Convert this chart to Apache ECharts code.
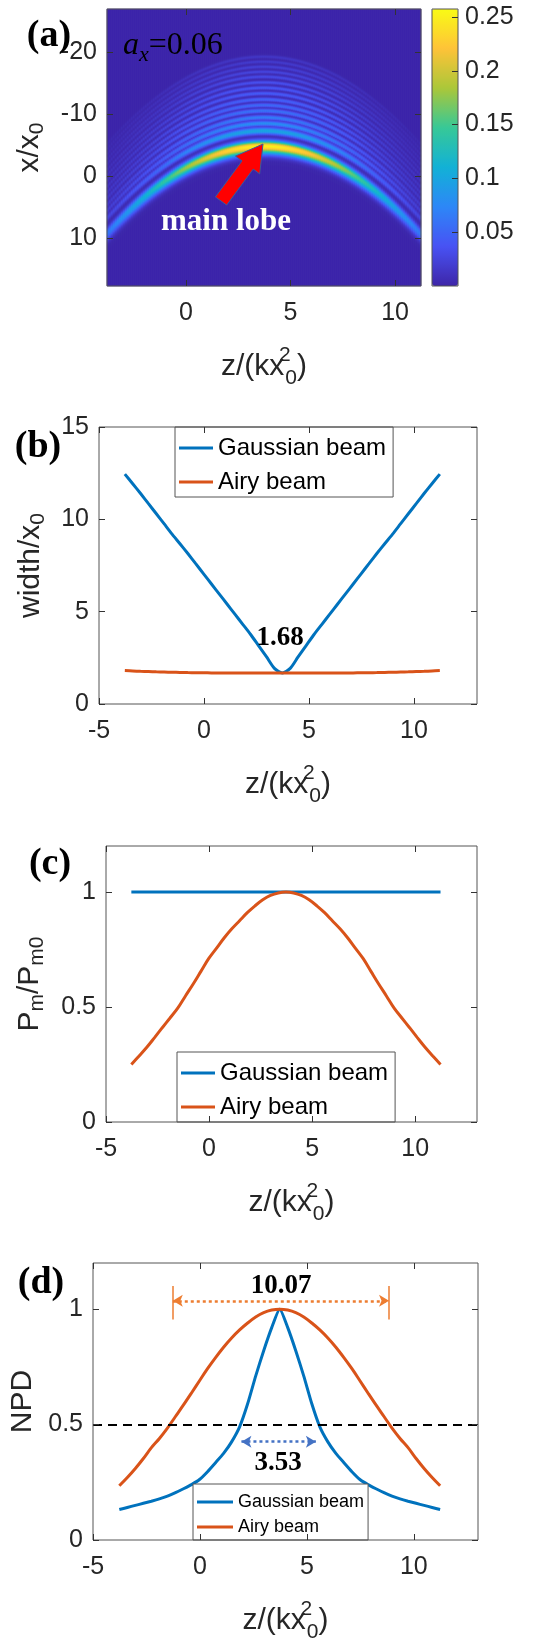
<!DOCTYPE html>
<html>
<head>
<meta charset="utf-8">
<script src="https://cdn.jsdelivr.net/npm/echarts@6/dist/echarts.min.js"></script>
<style>
  html, body { margin: 0; padding: 0; background: #fff; }
  #chart { width: 558px; height: 1644px; }
</style>
</head>
<body>
<div id="chart"></div>
<script>
const zSamples = [-3.77, -3.395, -3.02, -2.645, -2.27, -1.895, -1.52, -1.145, -0.77, -0.395, -0.02,
  0.355, 0.73, 1.105, 1.48, 1.855, 2.23, 2.605, 2.98, 3.355, 3.73, 4.105, 4.48, 4.855, 5.23, 5.605,
  5.98, 6.355, 6.73, 7.105, 7.48, 7.855, 8.23, 8.605, 8.98, 9.355, 9.73, 10.105, 10.48, 10.855, 11.23]

// (b) width / x0
const gaussWidth = [12.45, 11.93, 11.4, 10.85, 10.3, 9.75, 9.2, 8.68, 8.15, 7.6, 7.05, 6.5, 5.95, 5.4,
  4.85, 4.3, 3.75, 3.15, 2.55, 1.93, 1.68, 1.93, 2.55, 3.15, 3.75, 4.3, 4.85, 5.4, 5.95, 6.5, 7.05,
  7.6, 8.15, 8.68, 9.2, 9.75, 10.3, 10.85, 11.4, 11.93, 12.45]
const airyWidth = [1.81, 1.79, 1.77, 1.755, 1.74, 1.73, 1.72, 1.71, 1.7, 1.695, 1.69, 1.685, 1.68, 1.68,
  1.68, 1.68, 1.68, 1.68, 1.68, 1.68, 1.68, 1.68, 1.68, 1.68, 1.68, 1.68, 1.68, 1.68, 1.68, 1.685, 1.69,
  1.695, 1.7, 1.71, 1.72, 1.73, 1.74, 1.755, 1.77, 1.79, 1.81]

// (c) Pm / Pm0
const gaussPm = [1, 1, 1, 1, 1, 1, 1, 1, 1, 1, 1, 1, 1, 1, 1, 1, 1, 1, 1, 1, 1,
  1, 1, 1, 1, 1, 1, 1, 1, 1, 1, 1, 1, 1, 1, 1, 1, 1, 1, 1, 1]
const airyPm = [0.25, 0.287, 0.325, 0.367, 0.41, 0.452, 0.495, 0.548, 0.6, 0.655, 0.71, 0.755, 0.8,
  0.84, 0.875, 0.91, 0.94, 0.966, 0.985, 0.996, 1, 0.996, 0.985, 0.966, 0.94, 0.91, 0.875, 0.84, 0.8,
  0.755, 0.71, 0.655, 0.6, 0.548, 0.495, 0.452, 0.41, 0.367, 0.325, 0.287, 0.25]

// (d) NPD
const gaussNpd = [0.132, 0.141, 0.15, 0.159, 0.168, 0.178, 0.19, 0.205, 0.222, 0.24, 0.262, 0.296, 0.335,
  0.375, 0.425, 0.49, 0.59, 0.71, 0.82, 0.92, 1, 0.92, 0.82, 0.71, 0.59, 0.49, 0.425, 0.375, 0.335,
  0.296, 0.262, 0.24, 0.222, 0.205, 0.19, 0.178, 0.168, 0.159, 0.15, 0.141, 0.132]
const airyNpd = [0.235, 0.271, 0.31, 0.353, 0.4, 0.44, 0.485, 0.535, 0.585, 0.637, 0.69, 0.742, 0.79,
  0.835, 0.875, 0.91, 0.94, 0.966, 0.985, 0.996, 1, 0.996, 0.985, 0.966, 0.94, 0.91, 0.875, 0.835, 0.79,
  0.742, 0.69, 0.637, 0.585, 0.535, 0.485, 0.44, 0.4, 0.353, 0.31, 0.271, 0.235]

// (d) annotations: FWHM spans and their labels
const airySpan = [-1.27, 8.84]
const airySpanY = 1.036
const airySpanBar = [0.955, 1.1]
const gaussSpan = [1.94, 5.42]
const gaussSpanY = 0.426
const halfLevel = 0.5
const labelB = [3.62, 3.57, '1.68']
const labelD = [[3.8, 1.1, '10.07'], [3.65, 0.334, '3.53']]

// (a) intensity map: main lobe arc and the side lobes above it
const arcApex = [3.73, -4.84]      // [z, x] of the main lobe top
const arcCurvature = 0.25
const lobeOffset = [0, 2.47, 3.66, 4.63, 5.69, 6.61, 7.53, 8.5, 9.4, 10.27, 11.18, 11.98, 12.79, 13.6, 14.4]
const lobePeak = [0.25, 0.1, 0.08, 0.068, 0.06, 0.054, 0.049, 0.044, 0.04, 0.035, 0.03, 0.026, 0.022, 0.018, 0.014]
const lobeSigma = [0.6, 0.4, 0.31, 0.28, 0.26, 0.24, 0.23, 0.22, 0.21, 0.2, 0.2, 0.19, 0.19, 0.18, 0.18]
const mainTailSigma = 0.8
const colorbarTicks = [0.05, 0.1, 0.15, 0.2, 0.25]

const PARULA = ['#3e26a8', '#4852f4', '#2d87f7', '#12b1d6', '#37c897', '#abc739', '#fec338', '#f9fb15']
const BLUE = '#0072bd'
const ORANGE = '#d95319'
const AXIS = '#555555'
const TXT = '#262626'
const SANS = 'Liberation Sans'
const SERIF = 'Liberation Serif'

// grid of the map, 2px x 1px cells
const heatCols = 157
const heatRows = 277
const zRange = [-3.78, 11.24]
const xRange = [-26.9, 17.7]

function sampleAt(xs, ys, x) {
  if (x <= xs[0]) return ys[0]
  for (let i = 1; i < xs.length; i++) {
    if (x <= xs[i]) {
      const t = (x - xs[i - 1]) / (xs[i] - xs[i - 1])
      return ys[i - 1] + t * (ys[i] - ys[i - 1])
    }
  }
  return ys[ys.length - 1]
}

const heatData = []
const dz = (zRange[1] - zRange[0]) / heatCols
const dx = (xRange[1] - xRange[0]) / heatRows
for (let i = 0; i < heatCols; i++) {
  const z = zRange[0] + (i + 0.5) * dz
  const env = sampleAt(zSamples, airyPm, z)
  const xc = arcApex[1] + arcCurvature * (z - arcApex[0]) ** 2
  for (let j = 0; j < heatRows; j++) {
    const x = xRange[1] - (j + 0.5) * dx
    const o = xc - x
    let v = 0
    if (o <= 0) {
      v = lobePeak[0] * Math.exp(-o * o / (2 * mainTailSigma * mainTailSigma))
    } else {
      for (let k = 0; k < lobeOffset.length; k++) {
        const d = o - lobeOffset[k]
        v = Math.max(v, lobePeak[k] * Math.exp(-d * d / (2 * lobeSigma[k] * lobeSigma[k])))
      }
    }
    heatData.push([i, j, +(v * env + 0.001).toFixed(4)])
  }
}

const pairs = (ys) => zSamples.map((z, i) => [z, ys[i]])

const nameRich = {
  n: { fontSize: 30, fontFamily: SANS, color: TXT, lineHeight: 36, verticalAlign: 'middle' },
  s: { fontSize: 21, fontFamily: SANS, color: TXT, lineHeight: 18, verticalAlign: 'bottom' }
}
const xNameRich = {
  n: { fontSize: 30, fontFamily: SANS, color: TXT, lineHeight: 44, verticalAlign: 'middle' },
  p: { fontSize: 21, fontFamily: SANS, color: TXT, lineHeight: 18, verticalAlign: 'top', width: 1, align: 'left' },
  s: { fontSize: 21, fontFamily: SANS, color: TXT, lineHeight: 12, verticalAlign: 'bottom' }
}
const Z_NAME = '{n|z/(kx}{p|2}{s|0}{n|)}'

// the box itself comes from the grid border, axes only carry ticks and labels
const noLine = { show: false, onZero: false }
const tickStyle = (ticks) => ({ show: true, inside: true, length: 6, customValues: ticks, lineStyle: { color: '#333', width: 1 } })
const labelStyle = (ticks, margin) => ({
  customValues: ticks, margin: margin, color: TXT, fontSize: 25, fontFamily: SANS
})

function boxX(gridIndex, min, max, ticks) {
  return [
    {
      type: 'value', gridIndex, min, max, position: 'bottom', z: 12,
      axisLine: noLine, splitLine: { show: false },
      axisTick: tickStyle(ticks), axisLabel: labelStyle(ticks, 15),
      name: Z_NAME, nameLocation: 'middle', nameGap: 59,
      nameTextStyle: { rich: xNameRich }
    },
    {
      type: 'value', gridIndex, min, max, position: 'top', z: 12,
      axisLine: noLine, splitLine: { show: false },
      axisTick: tickStyle(ticks), axisLabel: { show: false, customValues: ticks }
    }
  ]
}

function boxY(gridIndex, min, max, ticks, name, nameGap, inverse) {
  return [
    {
      type: 'value', gridIndex, min, max, inverse: !!inverse, position: 'left', z: 12,
      axisLine: noLine, splitLine: { show: false },
      axisTick: tickStyle(ticks), axisLabel: labelStyle(ticks, 10),
      name, nameLocation: 'middle', nameRotate: 90, nameGap,
      nameTextStyle: { rich: nameRich }
    },
    {
      type: 'value', gridIndex, min, max, inverse: !!inverse, position: 'right', z: 12,
      axisLine: noLine, splitLine: { show: false },
      axisTick: tickStyle(ticks), axisLabel: { show: false, customValues: ticks }
    }
  ]
}

const gridBox = { show: true, borderColor: AXIS, borderWidth: 1, backgroundColor: 'transparent', z: 10, outerBoundsMode: 'none' }

const legendBase = {
  orient: 'vertical', selectedMode: false, backgroundColor: '#fff',
  borderColor: '#555', borderWidth: 1, borderRadius: 0, icon: 'rect',
  data: ['Gaussian beam', 'Airy beam']
}

const lineSeries = (name, color, xi, ys, extra) => Object.assign({
  type: 'line', name, xAxisIndex: xi, yAxisIndex: xi, data: pairs(ys),
  symbol: 'none', smooth: 0.35,
  lineStyle: { color, width: 3 }, itemStyle: { color }
}, extra || {})

const numLabel = (coord, text) => ({
  coord: [coord[0], coord[1]], symbol: 'circle', symbolSize: 0,
  label: { show: true, position: 'inside', formatter: text, color: '#000',
    fontFamily: SERIF, fontWeight: 'bold', fontSize: 27 }
})

const xsA = boxX(1, zRange[0], zRange[1], [0, 5, 10])
const ysA = boxY(1, xRange[0], xRange[1], [-20, -10, 0, 10], '{n|x/x}{s|0}', 59, true)
const xsB = boxX(3, -5, 13, [-5, 0, 5, 10])
const ysB = boxY(3, 0, 15, [0, 5, 10, 15], '{n|width/x}{s|0}', 50)
const xsC = boxX(4, -5, 13, [-5, 0, 5, 10])
const ysC = boxY(4, 0, 1.2, [0, 0.5, 1], '{n|P}{s|m}{n|/P}{s|m0}', 58)
const xsD = boxX(5, -5, 13, [-5, 0, 5, 10])
const ysD = boxY(5, 0, 1.2, [0, 0.5, 1], '{n|NPD}', 51)

const dashed = { color: '#000', width: 2, type: [9, 6] }
const spanStyle = (color) => ({ color, width: 2.5, type: [3, 3] })
const barStyle = { color: '#ed7d31', width: 1.5, type: 'solid' }

const chart = echarts.init(document.getElementById('chart'))

chart.setOption({
  animation: false,
  backgroundColor: '#fff',
  grid: [
    { left: 107, top: 9, width: 314, height: 277, outerBoundsMode: 'none' },
    Object.assign({ left: 107, top: 9, width: 314, height: 277 }, gridBox),
    Object.assign({ left: 432, top: 9, width: 26, height: 277 }, gridBox),
    Object.assign({ left: 99, top: 427, width: 378, height: 277 }, gridBox),
    Object.assign({ left: 106, top: 846, width: 371, height: 276 }, gridBox),
    Object.assign({ left: 93, top: 1263, width: 385, height: 277 }, gridBox)
  ],
  xAxis: [
    { type: 'category', gridIndex: 0, data: Array.from({ length: heatCols }, (_, i) => i), show: false },
    xsA[0],
    { type: 'category', gridIndex: 2, data: [''], show: false },
    xsB[0], xsC[0], xsD[0],
    xsA[1], xsB[1], xsC[1], xsD[1]
  ],
  yAxis: [
    { type: 'category', gridIndex: 0, data: Array.from({ length: heatRows }, (_, i) => i), show: false },
    ysA[0],
    {
      type: 'value', gridIndex: 2, min: 0, max: 0.2574, position: 'right', z: 12,
      axisLine: noLine, splitLine: { show: false },
      axisTick: tickStyle(colorbarTicks), axisLabel: labelStyle(colorbarTicks, 7)
    },
    ysB[0], ysC[0], ysD[0],
    ysA[1], ysB[1], ysC[1], ysD[1]
  ],
  visualMap: {
    type: 'continuous', seriesIndex: 0, min: 0, max: 0.2574,
    show: true, calculable: false, hoverLink: false, padding: 0,
    left: 432, top: 9, itemWidth: 26, itemHeight: 277, text: null,
    inRange: { color: PARULA }
  },
  legend: [
    Object.assign({ left: 175, top: 427, padding: [6, 7, 0, 4], itemGap: 4, itemWidth: 34, itemHeight: 3,
      textStyle: { fontSize: 24, lineHeight: 30, fontFamily: SANS, color: '#000' } }, legendBase),
    Object.assign({ left: 177, top: 1052, padding: [6, 7, 0, 4], itemGap: 4, itemWidth: 34, itemHeight: 3,
      textStyle: { fontSize: 24, lineHeight: 30, fontFamily: SANS, color: '#000' } }, legendBase),
    Object.assign({ left: 193, top: 1484, padding: [7, 4, 2, 4], itemGap: 3, itemWidth: 36, itemHeight: 3,
      textStyle: { fontSize: 18, lineHeight: 22, fontFamily: SANS, color: '#000' } }, legendBase)
  ],
  series: [
    {
      type: 'heatmap', xAxisIndex: 0, yAxisIndex: 0, data: heatData,
      progressive: 0, progressiveThreshold: 1e7,
      itemStyle: { borderWidth: 0 }, emphasis: { disabled: true }
    },
    lineSeries('Gaussian beam', BLUE, 3, gaussWidth, { smooth: 0.25 }),
    lineSeries('Airy beam', ORANGE, 3, airyWidth, {
      markPoint: { silent: true, data: [numLabel(labelB, labelB[2])] }
    }),
    lineSeries('Gaussian beam', BLUE, 4, gaussPm, { smooth: false }),
    lineSeries('Airy beam', ORANGE, 4, airyPm),
    lineSeries('Gaussian beam', BLUE, 5, gaussNpd, { smooth: 0.2 }),
    lineSeries('Airy beam', ORANGE, 5, airyNpd, {
      markLine: {
        silent: true, symbol: 'none', label: { show: false }, z: 5,
        data: [
          { yAxis: halfLevel, lineStyle: dashed },
          [
            { coord: [airySpan[0], airySpanY], symbol: 'arrow', symbolSize: [9, 10], lineStyle: spanStyle('#ed7d31') },
            { coord: [airySpan[1], airySpanY], symbol: 'arrow', symbolSize: [9, 10] }
          ],
          [
            { coord: [airySpan[0], airySpanBar[0]], lineStyle: barStyle },
            { coord: [airySpan[0], airySpanBar[1]] }
          ],
          [
            { coord: [airySpan[1], airySpanBar[0]], lineStyle: barStyle },
            { coord: [airySpan[1], airySpanBar[1]] }
          ],
          [
            { coord: [gaussSpan[0], gaussSpanY], symbol: 'arrow', symbolSize: [9, 10], lineStyle: spanStyle('#4472c4') },
            { coord: [gaussSpan[1], gaussSpanY], symbol: 'arrow', symbolSize: [9, 10] }
          ]
        ]
      },
      markPoint: { silent: true, data: labelD.map((d) => numLabel(d, d[2])) }
    })
  ],
  graphic: [
    { type: 'text', x: 49, y: 36, z: 100, style: { text: '(a)', font: 'bold 38px "Liberation Serif"', fill: '#000', align: 'center', verticalAlign: 'middle' } },
    { type: 'text', x: 38, y: 447, z: 100, style: { text: '(b)', font: 'bold 38px "Liberation Serif"', fill: '#000', align: 'center', verticalAlign: 'middle' } },
    { type: 'text', x: 50, y: 864, z: 100, style: { text: '(c)', font: 'bold 38px "Liberation Serif"', fill: '#000', align: 'center', verticalAlign: 'middle' } },
    { type: 'text', x: 41, y: 1283, z: 100, style: { text: '(d)', font: 'bold 38px "Liberation Serif"', fill: '#000', align: 'center', verticalAlign: 'middle' } },
    {
      type: 'text', x: 123, y: 46, z: 100,
      style: {
        text: '{a|a}{x|x}{t|=0.06}', verticalAlign: 'middle',
        rich: {
          a: { fontFamily: SERIF, fontStyle: 'italic', fontSize: 32, color: '#fff', lineHeight: 40, verticalAlign: 'middle' },
          x: { fontFamily: SERIF, fontStyle: 'italic', fontSize: 22, color: '#fff', lineHeight: 18, verticalAlign: 'bottom' },
          t: { fontFamily: SERIF, fontSize: 32, color: '#fff', lineHeight: 40, verticalAlign: 'middle' }
        }
      }
    },
    { type: 'text', x: 226, y: 222, z: 100, style: { text: 'main lobe', font: 'bold 31px "Liberation Serif"', fill: '#fff', align: 'center', verticalAlign: 'middle' } },
    {
      type: 'polygon', z: 100,
      shape: { points: [[226.7, 205.1], [253.2, 169.1], [259.7, 173.9], [263, 144], [235.5, 156.1], [242, 160.9], [215.4, 196.9]] },
      style: { fill: '#ff0000', stroke: '#3d5a99', lineWidth: 1 }
    }
  ]
})
</script>
</body>
</html>
